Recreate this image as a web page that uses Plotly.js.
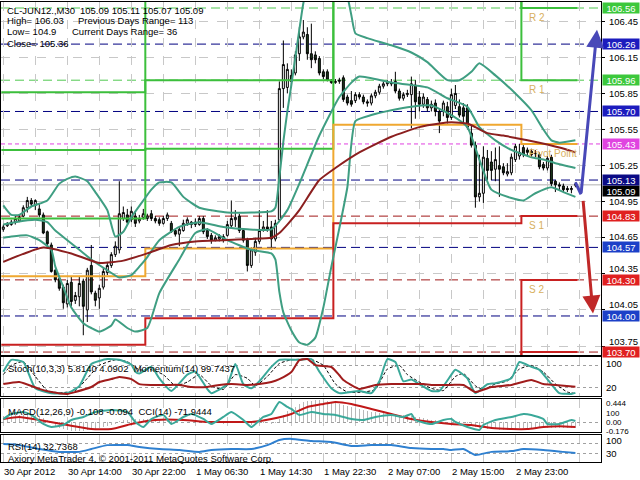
<!DOCTYPE html>
<html><head><meta charset="utf-8">
<script src="https://cdn.plot.ly/plotly-3.0.1.min.js"></script>
<style>html,body{margin:0;padding:0;background:#fff;}#chart{width:640px;height:480px;}</style>
</head><body><div id="chart"></div>
<script>
// ---------------- DATA ----------------
const tickIdx = [0,16,32,48,64,80,96,112,128];
const tickText = ["30 Apr 2012","30 Apr 14:00","30 Apr 22:00","1 May 06:30","1 May 14:30","1 May 22:30","2 May 07:00","2 May 15:00","2 May 23:00"];
const gridIdx = [0,8,16,24,32,40,48,56,64,72,80,88,96,104,112,120,128,136,144];
const priceTicks = [106.45,106.15,105.85,105.55,105.25,104.95,104.65,104.35,104.05,103.75];

const openP = [104.72,104.75,104.76,104.78,104.79,104.83,104.90,104.96,104.92,104.89,
104.84,104.70,104.59,104.38,104.31,104.24,104.10,104.28,104.13,104.16,
104.29,104.05,104.42,104.19,104.15,104.24,104.36,104.42,104.51,104.55,
104.81,104.84,104.80,104.83,104.79,104.82,104.81,104.85,104.81,104.80,
104.77,104.81,104.77,104.71,104.68,104.71,104.77,104.78,104.76,104.76,
104.81,104.71,104.67,104.63,104.64,104.66,104.67,104.75,104.80,104.83,
104.71,104.63,104.42,104.53,104.62,104.72,104.74,104.74,104.64,104.80,
105.89,105.90,106.00,106.02,106.18,106.32,106.34,106.18,106.17,106.14,
106.03,106.03,105.96,105.94,105.95,105.98,105.82,105.79,105.79,105.84,
105.82,105.78,105.77,105.83,105.86,105.91,105.93,105.94,105.95,105.87,
105.81,105.84,105.84,105.92,105.82,105.76,105.80,105.73,105.77,105.70,
105.70,105.74,105.65,105.75,105.74,105.73,105.73,105.52,105.42,104.99,
105.02,105.31,105.28,105.22,105.25,105.24,105.18,105.19,105.30,105.33,
105.40,105.38,105.37,105.35,105.34,105.26,105.23,105.32,105.12,105.09,
105.08,105.06,105.05,105.09];
const highP = [104.76,104.78,104.80,104.83,104.84,104.92,104.99,104.98,104.97,104.93,
104.86,104.71,104.61,104.39,104.33,104.26,104.30,104.33,104.20,104.33,
104.31,104.40,104.59,104.21,104.26,104.40,104.45,104.53,104.62,105.12,
104.91,104.89,104.91,104.86,104.84,104.89,104.85,104.88,104.83,104.82,
104.83,104.86,104.79,104.73,104.74,104.80,104.82,104.79,104.81,104.83,
104.83,104.73,104.69,104.67,104.68,104.68,104.79,104.96,104.88,104.85,
104.73,104.65,104.57,104.65,104.88,104.79,104.88,104.79,104.80,105.95,
106.29,106.10,106.05,106.20,106.40,106.46,106.40,106.43,106.20,106.16,
106.05,106.05,105.97,105.97,105.98,106.00,105.84,105.87,105.86,105.86,
105.84,105.80,105.85,105.88,105.93,105.95,105.96,105.97,106.03,105.89,
105.86,105.88,105.99,105.96,105.87,105.85,105.82,105.79,105.80,105.72,
105.79,105.78,105.89,105.92,105.80,105.77,105.76,105.58,105.45,105.34,
105.41,105.38,105.37,105.40,105.41,105.27,105.27,105.35,105.43,105.43,
105.42,105.40,105.39,105.38,105.36,105.28,105.33,105.34,105.13,105.11,
105.10,105.08,105.08,105.11];
const lowP = [104.70,104.74,104.75,104.76,104.78,104.82,104.86,104.91,104.88,104.82,
104.68,104.58,104.36,104.28,104.21,104.06,104.07,104.08,104.10,104.08,
103.84,103.95,104.18,104.08,104.06,104.22,104.34,104.40,104.49,104.52,
104.79,104.76,104.78,104.74,104.77,104.80,104.79,104.79,104.77,104.75,
104.76,104.79,104.69,104.66,104.58,104.70,104.75,104.73,104.74,104.75,
104.68,104.64,104.60,104.62,104.62,104.61,104.66,104.73,104.74,104.69,
104.61,104.37,104.40,104.50,104.60,104.70,104.70,104.55,104.62,104.78,
105.73,105.85,105.90,106.00,106.12,106.30,106.13,106.06,106.10,106.00,
105.97,105.95,105.93,105.93,105.93,105.78,105.75,105.74,105.77,105.80,
105.76,105.74,105.75,105.81,105.84,105.89,105.91,105.91,105.85,105.79,
105.79,105.82,105.56,105.64,105.70,105.73,105.70,105.70,105.66,105.52,
105.66,105.60,105.63,105.72,105.65,105.59,105.55,105.40,104.90,104.95,
104.94,105.13,105.13,105.12,104.99,105.17,105.16,105.17,105.28,105.30,
105.32,105.33,105.32,105.32,105.22,105.21,105.21,105.08,105.03,105.04,
105.03,105.03,105.02,105.07];
const closeP = [104.74,104.77,104.78,104.81,104.82,104.90,104.96,104.93,104.96,104.84,
104.69,104.60,104.37,104.30,104.23,104.11,104.27,104.12,104.17,104.27,
104.08,104.38,104.20,104.13,104.23,104.37,104.42,104.51,104.58,104.85,
104.86,104.78,104.87,104.77,104.81,104.85,104.83,104.81,104.79,104.77,
104.81,104.84,104.70,104.68,104.72,104.77,104.80,104.76,104.78,104.81,
104.70,104.66,104.63,104.65,104.66,104.63,104.76,104.81,104.82,104.71,
104.63,104.42,104.55,104.62,104.71,104.74,104.72,104.64,104.77,105.89,
106.09,106.05,105.95,106.17,106.32,106.36,106.18,106.13,106.13,106.02,
105.99,105.96,105.94,105.95,105.96,105.80,105.77,105.76,105.84,105.82,
105.78,105.77,105.83,105.86,105.91,105.93,105.94,105.93,105.87,105.81,
105.84,105.85,105.93,105.78,105.76,105.82,105.73,105.76,105.70,105.62,
105.77,105.65,105.84,105.85,105.67,105.66,105.57,105.42,104.99,105.02,
105.32,105.21,105.21,105.30,105.22,105.19,105.20,105.32,105.41,105.36,
105.34,105.36,105.34,105.35,105.24,105.23,105.31,105.10,105.09,105.08,
105.05,105.05,105.06,105.09];

// Bollinger bands (read at sampled bars)
const ubX = [0,2,4,7,11,14,16,18,21,23,26,28,30,32,35,37,39,42,45,49,56,62,67,68,69,70,71,72,73,74,75,77,80,84,86,87,88,91,97,102,106,111,114,117,119,123,128,132,135,137,139,143];
const ubY = [104.92,104.84,104.84,104.91,104.96,105.10,105.14,105.16,105.12,105.03,104.88,104.66,104.70,104.82,104.96,105.05,105.11,105.11,104.99,104.90,104.86,104.86,104.87,104.90,105.15,105.45,105.70,105.92,106.15,106.38,106.60,106.85,106.95,106.85,106.66,106.50,106.35,106.31,106.25,106.19,106.11,105.96,105.96,106.03,106.10,106.00,105.85,105.71,105.55,105.46,105.44,105.46];
const mbX = [0,3,8,11,13,16,19,22,26,29,32,34,36,39,44,49,55,61,67,71,74,79,84,87,89,97,106,111,116,119,123,127,132,135,138,143];
const mbY = [104.76,104.78,104.80,104.78,104.71,104.63,104.55,104.47,104.38,104.32,104.34,104.41,104.49,104.63,104.74,104.78,104.74,104.72,104.72,104.88,105.10,105.50,105.82,105.94,105.99,105.94,105.90,105.81,105.74,105.57,105.46,105.38,105.32,105.30,105.27,105.23];
const lbX = [0,2,6,9,12,13,15,17,20,22,24,27,28,31,33,36,39,44,48,51,56,62,67,68,69,70,72,74,76,78,80,82,84,86,88,92,97,102,107,112,116,119,122,127,130,133,137,140,143];
const lbY = [104.65,104.66,104.67,104.63,104.55,104.41,104.24,104.07,103.94,103.90,103.87,103.92,103.97,103.90,103.87,103.90,104.19,104.47,104.69,104.72,104.63,104.55,104.52,104.47,104.20,104.03,103.88,103.78,103.76,103.82,104.07,104.41,104.73,105.07,105.62,105.67,105.71,105.74,105.75,105.67,105.57,105.30,105.05,104.98,104.96,105.02,105.07,105.03,104.99];
// Moving average
const maX = [0,10,17,24,30,36,42,48,55,62,67,69,71,74,79,83,89,97,104,109,112,116,118,121,125,128,134,139,143];
const maY = [104.45,104.57,104.52,104.44,104.46,104.52,104.59,104.62,104.63,104.64,104.65,104.69,104.76,104.88,105.13,105.23,105.36,105.49,105.57,105.60,105.61,105.60,105.57,105.52,105.50,105.48,105.44,105.40,105.36];

// Daily pivot levels (30 Apr, 1 May, 2 May, 3 May)
const dayStart = [-0.5,35.5,82.5,129.5];
const dayEnd = 143.5;
const pivR3 = [105.86,106.79,108.85,107.09];
const pivR2 = [105.38,105.96,107.68,106.56];
const pivR1 = [104.81,105.39,106.81,105.96];
const pivPP = [104.33,104.56,105.59,105.43];
const pivS1 = [103.76,103.98,104.77,104.83];
const pivS2 = [103.28,103.16,103.55,104.30];
const pivS3 = [102.71,102.59,102.80,103.70];

// Horizontal level lines
const greenLevels = [106.56,105.96];
const navyLevels = [106.26,105.70,105.13,104.57,104.00];
const redLevels = [104.83,104.30,103.70];
const magentaLevels = [105.43];
const bidPrice = 105.09;

// Forecast arrows [fromX, fromY, toX, toY]
const blueCurveX = [143.0,144.4];
const blueCurveY = [105.11,105.01];
const arrowUp = [144.4,105.01,148.4,106.38];
const arrowDown = [144.9,104.97,147.4,104.02];

// Stochastic (main, signal) and Momentum
const stX = [0,2,5,8,12,16,19,22,26,29,32,33,34,37,39,42,46,48,51,52,56,58,60,62,64,67,69,74,77,79,82,84,89,92,94,96,98,100,102,104,107,109,112,113,116,118,121,123,127,129,132,134,137,139,142,143];
const stY = [63,95,89,18,5,5,24,84,97,95,82,63,58,76,45,11,55,63,16,5,29,84,29,18,37,76,95,95,97,63,18,5,11,5,37,97,89,37,42,29,11,11,55,68,45,5,29,32,45,89,76,68,29,5,3,5.81];
const sgX = [0,2,5,8,11,14,18,21,24,28,31,34,37,40,43,46,49,52,55,58,61,63,66,69,72,77,80,83,86,90,93,96,99,101,104,107,110,113,115,118,120,123,126,129,132,135,138,141,143];
const sgY = [55,80,90,50,12,6,12,45,80,95,90,68,68,55,25,35,55,25,15,55,45,25,50,85,95,96,80,30,8,8,15,70,80,55,35,18,12,50,58,25,15,30,38,70,80,62,30,8,4.09];
const momX = [0,4,9,12,16,18,22,24,27,29,32,34,37,41,44,47,51,54,57,61,64,67,69,72,74,76,78,82,84,85,89,93,97,102,105,107,112,115,118,122,127,132,135,138,143];
const momY = [99.89,100.01,99.61,99.43,99.32,99.43,99.72,100.01,100.18,100.30,100.18,99.89,99.84,99.84,99.84,99.72,99.72,99.84,99.89,99.84,99.89,100.01,100.18,100.59,101.28,101.34,100.99,100.88,100.40,100.13,99.61,99.84,99.89,99.89,99.89,99.84,99.84,99.84,99.43,99.72,99.84,100.13,99.89,99.84,99.74];

// MACD histogram (every bar), signal, CCI
const macdHist = [0.12,0.13,0.14,0.14,0.15,0.15,0.16,0.15,0.14,0.12,
0.08,0.04,-0.02,-0.07,-0.11,-0.14,-0.16,-0.17,-0.17,-0.17,
-0.18,-0.16,-0.15,-0.14,-0.12,-0.10,-0.08,-0.05,-0.03,0.02,
0.04,0.05,0.06,0.06,0.06,0.06,0.06,0.06,0.06,0.05,
0.05,0.05,0.03,0.02,0.01,0.01,0.01,0.01,0.01,0.01,
0.00,-0.01,-0.02,-0.02,-0.02,-0.03,-0.02,-0.01,-0.01,-0.01,
-0.02,-0.05,-0.05,-0.04,-0.03,-0.02,-0.02,-0.03,-0.02,0.06,
0.15,0.22,0.27,0.31,0.36,0.40,0.42,0.43,0.44,0.44,
0.43,0.42,0.40,0.38,0.36,0.34,0.32,0.30,0.28,0.26,
0.24,0.22,0.21,0.20,0.19,0.18,0.18,0.17,0.17,0.15,
0.14,0.13,0.13,0.11,0.10,0.08,0.07,0.05,0.04,0.02,
0.01,0.01,0.02,0.03,0.02,0.01,-0.01,-0.04,-0.09,-0.12,
-0.12,-0.13,-0.14,-0.14,-0.15,-0.15,-0.16,-0.15,-0.14,-0.12,
-0.12,-0.12,-0.12,-0.12,-0.12,-0.12,-0.12,-0.12,-0.12,-0.11,
-0.11,-0.11,-0.11,-0.108];
const sigX = [0,4,9,16,22,27,32,38,45,51,57,62,67,72,76,80,83,87,92,97,102,107,112,117,122,127,131,135,139,143];
const sigY = [0.064,0.104,0.044,-0.056,-0.136,-0.136,-0.036,0.044,0.044,0.004,0.004,0.004,0.064,0.164,0.304,0.364,0.404,0.364,0.264,0.164,0.064,0.004,-0.036,-0.056,-0.116,-0.136,-0.136,-0.096,-0.080,-0.094];
const cciX = [0,2,5,7,10,12,15,17,20,23,27,31,33,35,37,40,42,45,47,50,52,55,57,60,62,65,67,69,71,72,74,77,80,83,87,90,93,97,100,102,103,107,110,112,113,116,119,120,123,127,130,132,135,136,139,142,143];
const cciY = [-22,101,150,76,-145,-219,-170,-47,27,150,199,150,-96,-219,-22,76,-145,27,101,-22,-145,27,150,-47,-219,27,101,396,273,224,76,150,101,76,-22,-47,27,76,27,101,-47,-145,-47,-22,-96,-219,-292,-170,-47,27,101,76,-22,-145,-145,-47,-72];
// RSI
const rsiX = [0,4,9,14,19,22,26,31,34,39,44,49,52,57,62,66,69,72,77,82,87,92,97,102,107,110,112,115,118,122,127,130,135,140,143];
const rsiY = [67,63,48,37,37,48,63,63,56,48,44,37,44,48,48,63,83,87,79,75,60,63,63,52,48,48,44,48,25,37,40,48,44,37,32.74];

// ---------------- CHART ----------------
const FONT = 'Liberation Sans, Arial, sans-serif';
const idx = openP.map((_, i) => i);
const XR = [-0.575, 149.4];
const YR = [103.6755, 106.610];
const PXPERUNIT = 353 / (YR[1] - YR[0]);

function stepTrace(levels, color) {
  return {type:'scatter', mode:'lines', x:[...dayStart, dayEnd], y:[...levels, levels[levels.length-1]],
    line:{color:color, width:2, shape:'hv'}, hoverinfo:'skip', showlegend:false, xaxis:'x', yaxis:'y'};
}
function lineTrace(x, y, color, width, xa, ya, dash) {
  return {type:'scatter', mode:'lines', x:x, y:y, xaxis:xa, yaxis:ya,
    line:{color:color, width:width, shape:'spline', smoothing:0.5, dash:dash||'solid'}, hoverinfo:'skip', showlegend:false};
}

const traces = [
  stepTrace(pivR3, '#3cbf3c'),
  stepTrace(pivR2, '#3cbf3c'),
  stepTrace(pivR1, '#3cbf3c'),
  stepTrace(pivPP, '#f0a830'),
  stepTrace(pivS1, '#c82020'),
  stepTrace(pivS2, '#c82020'),
  stepTrace(pivS3, '#c82020'),
  lineTrace(ubX, ubY, '#3f9e82', 2, 'x', 'y'),
  lineTrace(mbX, mbY, '#3f9e82', 2, 'x', 'y'),
  lineTrace(lbX, lbY, '#3f9e82', 2, 'x', 'y'),
  lineTrace(maX, maY, '#8b1f1f', 2, 'x', 'y'),
  {type:'candlestick', x:idx, open:openP, high:highP, low:lowP, close:closeP, xaxis:'x', yaxis:'y',
    increasing:{line:{color:'#000000', width:1}, fillcolor:'#ffffff'},
    decreasing:{line:{color:'#000000', width:1}, fillcolor:'#1e3b1e'},
    whiskerwidth:0, hoverinfo:'skip', showlegend:false},
  {type:'scatter', mode:'lines', x:blueCurveX, y:blueCurveY, xaxis:'x', yaxis:'y',
    line:{color:'#4848b8', width:3}, hoverinfo:'skip', showlegend:false},
  // stochastic panel
  lineTrace(momX, momY, '#a01c1c', 2, 'x2', 'y5'),
  lineTrace(sgX, sgY, '#000000', 1, 'x2', 'y2', '3px,2px'),
  lineTrace(stX, stY, '#3aa899', 2, 'x2', 'y2'),
  // MACD panel
  {type:'bar', x:idx, y:macdHist, xaxis:'x3', yaxis:'y3', width:0.4, marker:{color:'#b8b8b8', line:{width:0}}, hoverinfo:'skip', showlegend:false},
  lineTrace(sigX, sigY, '#c01818', 2, 'x3', 'y3'),
  lineTrace(cciX, cciY, '#3aa899', 2, 'x3', 'y6'),
  // RSI panel
  lineTrace(rsiX, rsiY, '#2f80d0', 2, 'x4', 'y4')
];

const shapes = [];
function hline(p, color, dash, width) {
  shapes.push({type:'line', xref:'paper', x0:0, x1:1, yref:'y', y0:p, y1:p, layer:'below',
    line:{color:color, width:width||1, dash:dash}});
}
greenLevels.forEach(p => hline(p, '#50c850', '9px,5px'));
navyLevels.forEach(p => hline(p, '#000080', '9px,5px'));
redLevels.forEach(p => hline(p, '#a01818', '9px,5px'));
magentaLevels.forEach(p => hline(p, '#e040e0', '4px,3px'));
hline(bidPrice, '#b0b0b0', 'solid');

const annotations = [];
function txt(text, x, y, opts) {
  annotations.push(Object.assign({text:text, x:x, y:y, xref:'paper', yref:'paper', xanchor:'left', yanchor:'middle',
    showarrow:false, font:{family:FONT, size:9.5, color:'#000'}}, opts||{}));
}
const py = v => (462 - v) / 460;   // pixel row -> paper
const px = v => (v - 1) / 600;     // pixel col -> paper
txt('CL-JUN12.,M30', px(5), py(10));
txt('105.09 105.11 105.07 105.09', px(78), py(10));
txt('High= 106.03', px(5), py(21));
txt('Previous Days Range= 113', px(76), py(21));
txt('Low= 104.9', px(5), py(32));
txt('Current Days Range= 36', px(70), py(32));
txt('Close= 105.36', px(5), py(43));
txt('Stoch(10,3,3) 5.8140 4.0902  Momentum(14) 99.7437', px(6), py(368));
txt('MACD(12,26,9) -0.108 -0.094  CCI(14) -71.9444', px(6), py(411));
txt('RSI(14) 32.7368', px(6), py(446));
txt('Axiory MetaTrader 4, © 2001-2011 MetaQuotes Software Corp.', px(6), py(458));

// time labels
tickIdx.forEach((t, k) => annotations.push({text:tickText[k], x:t - 0.3, y:py(471), xref:'x', yref:'paper',
  xanchor:'left', yanchor:'middle', showarrow:false, font:{family:FONT, size:9.5, color:'#000'}}));

// pivot names
const pivNames = [['R 2', pivR2], ['R 1', pivR1], ['Pivot Point', pivPP], ['S 1', pivS1], ['S 2', pivS2]];
pivNames.forEach(([n, arr]) => annotations.push({text:n, x:dayStart[3] + 1.3, y:arr[3], xref:'x', yref:'y',
  xanchor:'left', yanchor:'top', yshift:-2, showarrow:false, font:{family:FONT, size:10, color:'#d8b060'}}));

// price scale labels (nudged up when a coloured box sits just below)
const boxLevels = [...greenLevels, ...navyLevels, ...redLevels, ...magentaLevels];
priceTicks.forEach(p => {
  let shift = 0;
  boxLevels.forEach(b => {
    const gap = (p - b) * PXPERUNIT;
    if (gap > 0 && gap < 11) shift = Math.max(shift, 11 - gap);
  });
  annotations.push({text:p.toFixed(2), x:px(607), y:p, xref:'paper', yref:'y', xanchor:'left', yanchor:'middle',
    yshift:shift, showarrow:false, font:{family:FONT, size:9.5, color:'#000'}});
});

// right-side price boxes
function box(p, bg, shift) {
  annotations.push({text:p.toFixed(2), x:px(602), y:p, xref:'paper', yref:'y', xanchor:'left', yanchor:'middle',
    yshift:shift||0, showarrow:false, bgcolor:bg, width:36, height:10, borderpad:0, align:'center',
    font:{family:FONT, size:9.5, color:'#ffffff'}});
}
box(bidPrice, '#000000', -6);
greenLevels.forEach(p => box(p, '#3cc83c'));
[106.26, 105.70].forEach(p => box(p, '#1c1cbe'));
box(105.13, '#0b0b85');
[104.57, 104.00].forEach(p => box(p, '#1c40c8'));
magentaLevels.forEach(p => box(p, '#e044e0'));
redLevels.forEach(p => box(p, '#e02020'));

// sub-window scale labels
function sideLbl(t, ya, v, shift, size) {
  annotations.push({text:t, x:px(604), y:v, xref:'paper', yref:ya, xanchor:'left', yanchor:'middle', yshift:shift||0,
    showarrow:false, font:{family:FONT, size:size||9.5, color:'#000'}});
}
sideLbl('100', 'y2', 100, -5.5);
sideLbl('20', 'y2', 20, 0);
sideLbl('0.444', 'y3', 0.444, -4, 8);
sideLbl('100', 'y6', 100, 0.5, 8);
sideLbl('0.00', 'y3', 0, -0.3, 8);
sideLbl('-0.176', 'y3', -0.176, -0.8, 8);
sideLbl('100', 'y4', 100, -5);
sideLbl('30', 'y4', 30, 0);

// arrows
annotations.push({x:arrowUp[2], y:arrowUp[3], ax:arrowUp[0], ay:arrowUp[1], xref:'x', yref:'y', axref:'x', ayref:'y',
  showarrow:true, arrowhead:2, arrowsize:1.2, arrowwidth:3, arrowcolor:'#4848b8', text:''});
annotations.push({x:arrowDown[2], y:arrowDown[3], ax:arrowDown[0], ay:arrowDown[1], xref:'x', yref:'y', axref:'x', ayref:'y',
  showarrow:true, arrowhead:2, arrowsize:1.2, arrowwidth:3, arrowcolor:'#c02828', text:''});

const xBase = {range:XR, tickvals:gridIdx, showgrid:true, griddash:'dash', gridcolor:'#c8c8c8', gridwidth:1,
  showticklabels:false, ticks:'', showline:true, mirror:true, linecolor:'#000', linewidth:1, zeroline:false, fixedrange:true};
const layout = {
  width:640, height:480, margin:{l:1, r:39, t:2, b:18}, paper_bgcolor:'#fff', plot_bgcolor:'#fff',
  showlegend:false, bargap:0,
  xaxis: Object.assign({}, xBase, {anchor:'y', rangeslider:{visible:false}}),
  xaxis2: Object.assign({}, xBase, {anchor:'y2'}),
  xaxis3: Object.assign({}, xBase, {anchor:'y3'}),
  xaxis4: Object.assign({}, xBase, {anchor:'y4'}),
  yaxis: {domain:[0.2326,1], range:YR, side:'right', tickvals:priceTicks, showticklabels:false,
    ticks:'outside', ticklen:3, tickcolor:'#000',
    showgrid:true, griddash:'dash', gridcolor:'#c8c8c8', showline:true, mirror:true, linecolor:'#000', zeroline:false, anchor:'x'},
  yaxis2: {domain:[0.1435,0.2283], range:[-2.7,102.7], anchor:'x2', tickvals:[20,80], showticklabels:false, ticks:'',
    showgrid:true, griddash:'dot', gridcolor:'#a0a0a0', showline:true, mirror:true, linecolor:'#000', zeroline:false},
  yaxis3: {domain:[0.0652,0.1370], range:[-0.196,0.464], anchor:'x3', tickvals:[0], showticklabels:false, ticks:'',
    showgrid:true, griddash:'dot', gridcolor:'#a0a0a0', showline:true, mirror:true, linecolor:'#000', zeroline:false},
  yaxis4: {domain:[0,0.0587], range:[-1.9,101.9], anchor:'x4', tickvals:[30,70], showticklabels:false, ticks:'',
    showgrid:true, griddash:'dot', gridcolor:'#a0a0a0', showline:true, mirror:true, linecolor:'#000', zeroline:false},
  yaxis5: {overlaying:'y2', anchor:'x2', range:[99.2,101.46], visible:false},
  yaxis6: {overlaying:'y3', anchor:'x3', range:[-342,469], visible:false},
  shapes: shapes,
  annotations: annotations
};
Plotly.newPlot('chart', traces, layout, {staticPlot:true, displayModeBar:false});
</script>
</body></html>
